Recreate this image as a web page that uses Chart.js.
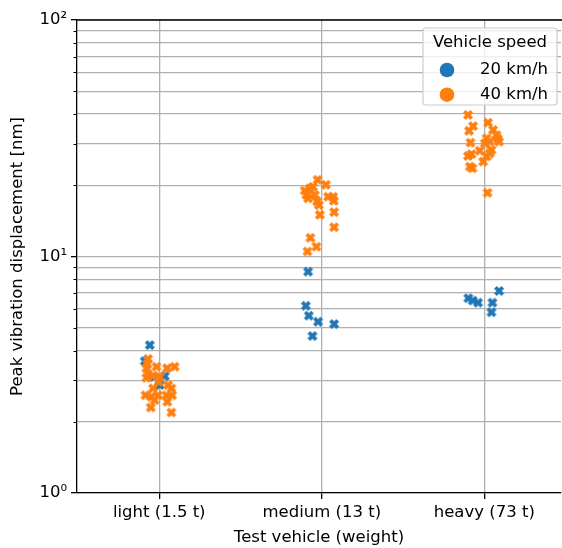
<!DOCTYPE html>
<html>
<head>
<meta charset="utf-8">
<script src="https://cdn.jsdelivr.net/npm/chart.js@4"></script>
<style>
html, body { margin: 0; padding: 0; background: #fff; }
#wrap { width: 562px; height: 548px; }
</style>
</head>
<body>
<div id="wrap"><canvas id="chart" width="562" height="548"></canvas></div>
<script>
const categories = ['light (1.5 t)', 'medium (13 t)', 'heavy (73 t)'];
const speeds = ['20 km/h', '40 km/h'];
const yTicks = [1, 2, 3, 4, 5, 6, 7, 8, 9, 10, 20, 30, 40, 50, 60, 70, 80, 90, 100];

// 20 km/h: peak displacement [nm] and horizontal jitter (category units)
const slowLight = [4.22, 3.61, 3.12, 3.09, 2.86];
const slowLightDx = [-0.058, -0.089, 0.034, -0.034, 0.003];
const slowMedium = [8.63, 6.19, 5.62, 5.30, 5.18, 4.61];
const slowMediumDx = [-0.084, -0.098, -0.080, -0.023, 0.076, -0.057];
const slowHeavy = [6.66, 6.51, 6.38, 6.38, 5.81, 7.15];
const slowHeavyDx = [-0.098, -0.071, -0.038, 0.050, 0.044, 0.091];

// 40 km/h
const fastLight = [3.69, 3.50, 3.37, 3.42, 3.37, 3.42, 3.18, 3.13, 3.10, 3.07, 2.95, 2.86,
  2.77, 2.77, 2.59, 2.59, 2.55, 2.59, 2.59, 2.43, 2.30, 2.19, 2.47];
const fastLightDx = [-0.069, -0.073, -0.079, -0.017, 0.048, 0.095, -0.069, -0.038, 0.003, -0.079, -0.003, 0.054,
  -0.038, 0.075, -0.007, -0.085, -0.048, 0.044, 0.079, 0.050, -0.052, 0.075, -0.028];
const fastMedium = [21.1, 20.1, 19.7, 19.0, 19.4, 18.2, 18.2, 17.6, 17.1, 17.9, 17.9, 17.2,
  15.0, 15.4, 13.3, 12.0, 11.0, 10.5, 16.5];
const fastMediumDx = [-0.026, 0.025, -0.054, -0.105, -0.074, -0.094, -0.043, -0.084, -0.029, 0.039, 0.070, 0.074,
  -0.012, 0.076, 0.076, -0.070, -0.033, -0.088, -0.018];
const fastHeavy = [39.7, 35.6, 34.0, 36.8, 34.3, 31.6, 32.6, 30.6, 30.6, 30.1, 30.3, 28.2,
  28.0, 27.3, 27.1, 26.6, 26.5, 25.2, 24.0, 23.6, 18.6, 31.5];
const fastHeavyDx = [-0.100, -0.069, -0.094, 0.023, 0.054, 0.014, 0.075, 0.091, 0.034, 0.003, -0.085, 0.044,
  -0.028, 0.034, -0.079, -0.100, 0.014, -0.007, -0.089, -0.073, 0.020, 0.083];

const blue = '#1f77b4';
const orange = '#ff7f0e';
const font = { family: "'DejaVu Sans', sans-serif", size: 16.5 };

function points(groups) {
  const out = [];
  groups.forEach(([vals, dx], i) => {
    vals.forEach((v, k) => out.push({ x: i + dx[k], y: v }));
  });
  return out;
}

// filled "X" marker like matplotlib's
function xMarker(color) {
  const c = document.createElement('canvas');
  const s = 12;
  c.width = s; c.height = s;
  const g = c.getContext('2d');
  const pts = [[-1, -2], [0, -1], [1, -2], [2, -1], [1, 0], [2, 1], [1, 2], [0, 1], [-1, 2], [-2, 1], [-1, 0], [-2, -1]];
  g.translate(s / 2, s / 2);
  g.beginPath();
  pts.forEach(([x, y], i) => i ? g.lineTo(x * 2.25, y * 2.25) : g.moveTo(x * 2.25, y * 2.25));
  g.closePath();
  g.fillStyle = color;
  g.fill();
  g.strokeStyle = color;
  g.lineWidth = 1;
  g.stroke();
  return c;
}

const isDecade = v => Math.abs(Math.log10(v) - Math.round(Math.log10(v))) < 1e-9;
const sup = { '0': '⁰', '1': '¹', '2': '²' };

const frame = {
  id: 'frame',
  afterDraw(chart) {
    const { ctx, chartArea: a } = chart;
    const y = chart.scales.y;
    ctx.save();
    ctx.strokeStyle = '#000';
    ctx.lineWidth = 1.3;
    ctx.beginPath();
    ctx.moveTo(a.left - 0.6, a.top);
    ctx.lineTo(a.right + 2, a.top);
    ctx.stroke();
    ctx.lineWidth = 1;
    yTicks.filter(v => !isDecade(v)).forEach(v => {
      const py = Math.round(y.getPixelForValue(v)) + 0.5;
      ctx.beginPath();
      ctx.moveTo(a.left - 3.5, py);
      ctx.lineTo(a.left, py);
      ctx.stroke();
    });

    // legend
    const right = a.right - 4, top = a.top + 8, w = 134, h = 77;
    const left = right - w;
    ctx.fillStyle = 'rgba(255,255,255,0.8)';
    ctx.strokeStyle = '#cccccc';
    ctx.lineWidth = 1.2;
    ctx.beginPath();
    ctx.roundRect(left, top, w, h, 3);
    ctx.fill();
    ctx.stroke();
    ctx.fillStyle = '#000';
    ctx.font = `${font.size}px ${font.family}`;
    ctx.textBaseline = 'middle';
    ctx.textAlign = 'center';
    ctx.fillText('Vehicle speed', left + w / 2, top + 15);
    chart.data.datasets.forEach((ds, i) => {
      const cy = top + 42 + i * 24.7;
      ctx.fillStyle = ds.legendColor;
      ctx.beginPath();
      ctx.arc(left + 24, cy, 7.3, 0, Math.PI * 2);
      ctx.fill();
      ctx.fillStyle = '#000';
      ctx.textAlign = 'right';
      ctx.fillText(ds.label, right - 9, cy);
    });
    ctx.restore();
  }
};

new Chart(document.getElementById('chart'), {
  type: 'scatter',
  data: {
    datasets: [
      {
        label: speeds[0],
        legendColor: blue,
        order: 1,
        data: points([[slowLight, slowLightDx], [slowMedium, slowMediumDx], [slowHeavy, slowHeavyDx]]),
        pointStyle: xMarker(blue),
        backgroundColor: blue,
        borderColor: blue
      },
      {
        label: speeds[1],
        legendColor: orange,
        order: 0,
        data: points([[fastLight, fastLightDx], [fastMedium, fastMediumDx], [fastHeavy, fastHeavyDx]]),
        pointStyle: xMarker(orange),
        backgroundColor: orange,
        borderColor: orange
      }
    ]
  },
  options: {
    responsive: false,
    animation: false,
    devicePixelRatio: 1,
    layout: { autoPadding: false, padding: { top: 20, right: 1, left: 0, bottom: 0 } },
    plugins: {
      legend: { display: false },
      tooltip: { enabled: false }
    },
    scales: {
      x: {
        type: 'linear',
        min: -0.506,
        max: 2.472,
        afterBuildTicks: s => { s.ticks = categories.map((c, i) => ({ value: i })); },
        afterFit: s => { s.height = 55; s.paddingLeft = 0; s.paddingRight = 0; },
        ticks: {
          autoSkip: false,
          maxRotation: 0,
          color: '#000',
          font: font,
          padding: 4,
          callback: v => categories[Math.round(v)]
        },
        grid: { color: '#b0b0b0', lineWidth: 1.3, tickColor: '#000', tickLength: 6, tickWidth: 1.3 },
        border: { color: '#000', width: 1.3 },
        title: { display: true, text: 'Test vehicle (weight)', color: '#000', font: font, padding: { top: 0, bottom: 0 } }
      },
      y: {
        type: 'logarithmic',
        min: 1,
        max: 100,
        afterBuildTicks: s => { s.ticks = yTicks.map(v => ({ value: v, major: isDecade(v) })); },
        afterFit: s => { s.width = 77; s.paddingTop = 0; s.paddingBottom = 0; },
        ticks: {
          autoSkip: false,
          color: '#000',
          font: font,
          padding: 4,
          callback: v => isDecade(v) ? '10' + sup[String(Math.round(Math.log10(v)))] : ''
        },
        grid: {
          color: '#b0b0b0',
          lineWidth: 1.3,
          tickLength: 6,
          tickWidth: 1.3,
          tickColor: c => isDecade(c.tick.value) ? '#000' : 'rgba(0,0,0,0)'
        },
        border: { color: '#000', width: 1.3 },
        title: { display: true, text: 'Peak vibration displacement [nm]', color: '#000', font: font, padding: { top: 8, bottom: 0 } }
      }
    }
  },
  plugins: [frame]
});
</script>
</body>
</html>
